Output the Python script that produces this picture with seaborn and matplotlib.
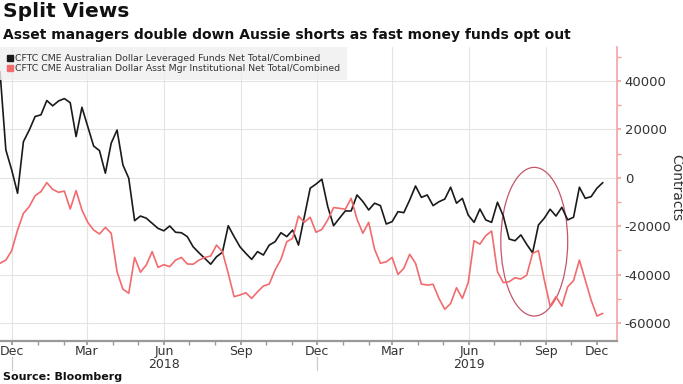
import numpy as np
import pandas as pd
import matplotlib
matplotlib.use("Agg")
import matplotlib.pyplot as plt
import matplotlib.dates as mdates
import matplotlib.transforms as mtransforms
from matplotlib.patches import Ellipse
from matplotlib.lines import Line2D
import seaborn as sns

# -----------------------------
# DATA (weekly CFTC positioning, contracts)
# -----------------------------
weeks = pd.date_range("2017-11-17", periods=104, freq="7D")

leveraged_funds = [
    43900, 11500, 3200, -6400, 14900, 19700, 25300, 26000, 31900, 29700,
    31700, 32700, 31000, 17000, 29100, 21100, 13100, 11200, 1900, 14300,
    19700, 5300, -200, -17700, -15800, -16700, -18800, -20900, -21900, -19900,
    -22500, -22700, -24300, -28500, -31000, -33300, -35700, -32600, -30800, -19800,
    -24300, -28500, -31200, -33700, -30500, -31900, -27800, -26400, -22700, -24300,
    -21600, -27800, -16100, -4300, -2600, -600, -11900, -19800, -16700, -13700,
    -13700, -7100, -9800, -13300, -10500, -11500, -19100, -18100, -14000, -14400,
    -9200, -3400, -8100, -7100, -11500, -9900, -8800, -3900, -10500, -8500,
    -15400, -18400, -12900, -17400, -18400, -10100, -15800, -25300, -26000, -23600,
    -27500, -31000, -19500, -16700, -13000, -15800, -12200, -17400, -16300, -3900,
    -8500, -7800, -4300, -2000,
]

asset_managers = [
    -35300, -34000, -30100, -21600, -14700, -11900, -7400, -5700, -2000, -4800,
    -6000, -5500, -12900, -5300, -13300, -18400, -21600, -23200, -20500, -22900,
    -38800, -46000, -47700, -32900, -39000, -36000, -30500, -37000, -35900, -36700,
    -34000, -32900, -35600, -35700, -34000, -32900, -32300, -27800, -30500, -39500,
    -49100, -48400, -47500, -49800, -47100, -44700, -43900, -38100, -33700, -26400,
    -25000, -15800, -18400, -16300, -22500, -21300, -17400, -12300, -12600, -13000,
    -8500, -17100, -22900, -18400, -29500, -35300, -34700, -32900, -39900, -37400,
    -31600, -35300, -43900, -44300, -44000, -49800, -54300, -51900, -45400, -49800,
    -43300, -26000, -27400, -23900, -22000, -38800, -43300, -42900, -41300, -41800,
    -40200, -31200, -30100, -42200, -53000, -49100, -53000, -45000, -42500, -34000,
    -42200, -50500, -57100, -56000,
]

series_names = [
    "CFTC CME Australian Dollar Leveraged Funds Net Total/Combined",
    "CFTC CME Australian Dollar Asst Mgr Institutional Net Total/Combined",
]
series_colors = ["#1a1a1a", "#f26b6e"]

tick_dates = pd.to_datetime([
    "2017-12-01", "2018-03-01", "2018-06-01", "2018-09-01", "2018-12-01",
    "2019-03-01", "2019-06-01", "2019-09-01", "2019-11-01",
])
tick_labels = ["Dec", "Mar", "Jun", "Sep", "Dec", "Mar", "Jun", "Sep", "Dec"]
year_labels = ["2018", "2019"]
year_centers = pd.to_datetime(["2018-06-01", "2019-06-01"])
year_breaks = pd.to_datetime(["2017-12-01", "2018-12-01"])

y_ticks = [-60000, -40000, -20000, 0, 20000, 40000]

df = pd.DataFrame({
    "date": np.concatenate([weeks, weeks]),
    "value": leveraged_funds + asset_managers,
    "series": [series_names[0]] * len(weeks) + [series_names[1]] * len(weeks),
})

# -----------------------------
# FIGURE
# -----------------------------
sns.set_theme(style="white")
plt.rcParams["font.family"] = ["DejaVu Sans"]

fig = plt.figure(figsize=(6.83, 3.84), dpi=100)
ax = fig.add_axes([0.0, 0.112, 0.9034, 0.7656])

sns.lineplot(
    data=df, x="date", y="value", hue="series",
    hue_order=series_names, palette=series_colors,
    linewidth=1.2, legend=False, ax=ax,
)

ax.set_xlim(pd.Timestamp("2017-11-17"), pd.Timestamp("2019-11-25"))
ax.set_ylim(-67400, 54000)

# x axis
ax.xaxis.set_major_locator(matplotlib.ticker.FixedLocator(mdates.date2num(tick_dates)))
ax.xaxis.set_major_formatter(matplotlib.ticker.FixedFormatter(tick_labels))
ax.xaxis.set_minor_locator(mdates.MonthLocator())
ax.tick_params(axis="x", which="both", bottom=True, length=3, color="#999999",
               labelsize=9, labelcolor="#333333", pad=0)
ax.set_xlabel("")

# y axis on the right
ax.yaxis.tick_right()
ax.set_yticks(y_ticks)
ax.set_yticklabels([str(v) for v in y_ticks])
ax.yaxis.set_minor_locator(matplotlib.ticker.MultipleLocator(10000))
ax.tick_params(axis="y", which="both", right=True, left=False, length=3,
               color="#f4a3a3", labelsize=9.5, labelcolor="#333333", pad=2.5)
ax.set_ylabel("")

# grid
ax.grid(True, which="major", color="#e4e4e4", linewidth=0.8)
ax.xaxis.get_gridlines()[-1].set_visible(False)

# spines
for s in ["top", "left"]:
    ax.spines[s].set_visible(False)
ax.spines["right"].set_color("#f4a3a3")
ax.spines["right"].set_linewidth(1.2)
ax.spines["bottom"].set_color("#999999")
ax.spines["bottom"].set_linewidth(1.6)

# year labels and separators
trans = mtransforms.blended_transform_factory(ax.transData, ax.transAxes)
for lab, d in zip(year_labels, year_centers):
    ax.text(mdates.date2num(d), -0.08, lab, transform=trans, ha="center",
            va="center", fontsize=9, color="#333333")
for d in year_breaks:
    ax.add_line(Line2D([mdates.date2num(d)] * 2, [-0.055, -0.1], transform=trans,
                       color="#cccccc", linewidth=0.9, clip_on=False))

# annotation circle
ax.add_patch(Ellipse((mdates.date2num(pd.Timestamp("2019-08-18")), -26400),
                     width=80, height=61400, fill=False,
                     edgecolor="#c2566a", linewidth=0.9))

# legend
handles = [Line2D([], [], marker="s", linestyle="none", markersize=5,
                  color=c) for c in series_colors]
leg = ax.legend(handles, series_names, loc="upper left", bbox_to_anchor=(0, 1),
                borderaxespad=0, frameon=True, fancybox=False, fontsize=6.75,
                handlelength=0.6, handletextpad=0.2, labelspacing=0.15,
                borderpad=0.75, labelcolor="#333333")
leg.get_frame().set_facecolor("#efefef")
leg.get_frame().set_edgecolor("none")

# titles
fig.text(0.004, 0.995, "Split Views", fontsize=14.5, fontweight="bold",
         ha="left", va="top", color="#111111")
fig.text(0.004, 0.928, "Asset managers double down Aussie shorts as fast money funds opt out",
         fontsize=10, fontweight="bold", ha="left", va="top", color="#111111")
fig.text(0.99, 1 - 188 / 384, "Contracts", rotation=270, fontsize=10,
         ha="center", va="center", color="#333333")
fig.text(0.004, 0.005, "Source: Bloomberg", fontsize=8, fontweight="bold",
         ha="left", va="bottom", color="#111111")

fig.savefig("out.png", dpi=100)
